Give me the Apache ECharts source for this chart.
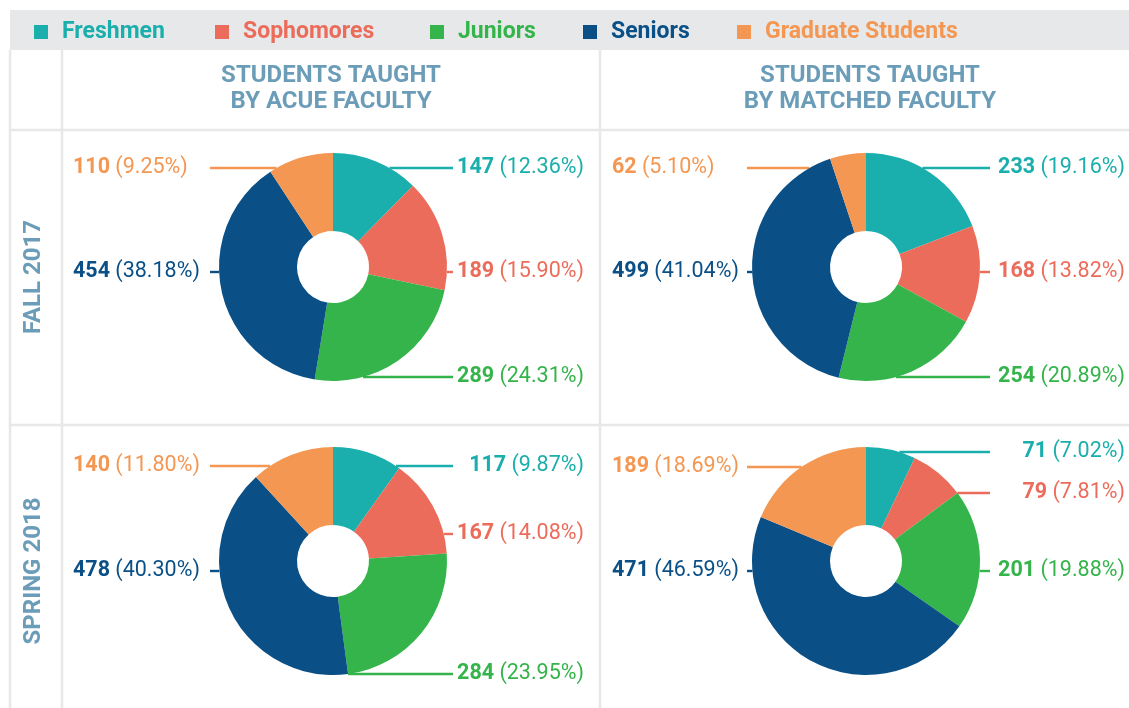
<!DOCTYPE html>
<html>
<head>
<meta charset="utf-8">
<script src="https://cdn.jsdelivr.net/npm/echarts@6/dist/echarts.min.js"></script>
<style>
html,body{margin:0;padding:0;background:#fff;}
#chart{width:1129px;height:708px;}
</style>
</head>
<body>
<div id="chart"></div>
<script>
// ---- data ----
const categories = ['Freshmen', 'Sophomores', 'Juniors', 'Seniors', 'Graduate Students'];
const fall2017Acue = [147, 189, 289, 454, 110];
const fall2017Matched = [233, 168, 254, 499, 62];
const spring2018Acue = [117, 167, 284, 478, 140];
const spring2018Matched = [71, 79, 201, 471, 189];
const columnTitles = ['STUDENTS TAUGHT\nBY ACUE FACULTY', 'STUDENTS TAUGHT\nBY MATCHED FACULTY'];
const rowTitles = ['FALL 2017', 'SPRING 2018'];

// ---- styles / layout ----
const colors = ['#1aafac', '#ec6c5b', '#34b44a', '#0a5087', '#f39752'];
const headColor = '#6c9db8';
const gridColor = '#e7e8ea';
const FONT = 'Roboto';
const pieData = [fall2017Acue, fall2017Matched, spring2018Acue, spring2018Matched];
const pieCenters = [[333, 267], [866, 267], [333, 561], [866, 561]];
const R_OUT = 114, R_IN = 36;
const labelDy = [[-99, 5, 110, 5, -99], [-99, 5, 110, 5, -99], [-95, -27, 113, 10, -95], [-109, -68, 10, 10, -94]];
const labelSide = ['right', 'right', 'right', 'left', 'left'];
const textLeftX = [73, 612, 73, 612];
const textRightX = [584, 1125, 584, 1125];
const lineLeftX = [210, 747, 210, 747];
const lineRightX = [453, 990, 453, 990];
const legendLeft = [34, 215, 430, 583, 737];

const chart = echarts.init(document.getElementById('chart'));

const series = pieData.map((vals, s) => {
  const total = vals.reduce((a, b) => a + b, 0);
  return {
    type: 'pie',
    center: pieCenters[s],
    radius: [R_IN, R_OUT],
    startAngle: 90,
    clockwise: true,
    avoidLabelOverlap: false,
    emphasis: { disabled: true },
    data: vals.map((v, i) => ({ name: categories[i], value: v, itemStyle: { color: colors[i] } })),
    label: {
      show: true,
      formatter: p => '{b|' + p.value + '} {n|(' + (p.value / total * 100).toFixed(2) + '%)}',
      rich: {
        b: { fontFamily: FONT, fontWeight: 'bold', fontSize: 21.5 },
        n: { fontFamily: FONT, fontWeight: 'normal', fontSize: 21.5, padding: [0, 0, 0, 2] }
      },
      color: 'inherit'
    },
    labelLine: { show: true, smooth: false, lineStyle: { width: 2.4 } },
    labelLayout: function (params) {
      const i = params.dataIndex;
      const [cx, cy] = pieCenters[s];
      const dy = labelDy[s][i];
      const y = cy + dy;
      const dx = Math.abs(dy) < R_OUT ? Math.sqrt(R_OUT * R_OUT - dy * dy) : 0;
      if (labelSide[i] === 'right') {
        const x0 = cx + dx;
        return {
          x: textRightX[s], y: y, align: 'right', verticalAlign: 'middle',
          labelLinePoints: [[x0, y], [x0, y], [lineRightX[s], y]]
        };
      } else {
        const x0 = cx - dx;
        return {
          x: textLeftX[s], y: y, align: 'left', verticalAlign: 'middle',
          labelLinePoints: [[x0, y], [x0, y], [lineLeftX[s], y]]
        };
      }
    }
  };
});

const legends = categories.map((c, i) => ({
  left: legendLeft[i],
  top: 20,
  padding: 0,
  icon: 'rect',
  itemWidth: 14,
  itemHeight: 14,
  selectedMode: false,
  data: [{ name: c, textStyle: { color: colors[i] } }],
  textStyle: { fontFamily: FONT, fontWeight: 'bold', fontSize: 23, padding: [0, 0, 0, 9], lineHeight: 24 }
}));

const lines = [
  [10, 50, 10, 708], [62, 50, 62, 708], [600, 50, 600, 708],
  [10, 130, 1129, 130], [10, 425, 1129, 425]
];

const graphic = [
  { type: 'rect', z: -10, shape: { x: 10, y: 10, width: 1119, height: 40 }, style: { fill: gridColor } }
].concat(lines.map(l => ({
  type: 'line', z: -10, shape: { x1: l[0], y1: l[1], x2: l[2], y2: l[3] },
  style: { stroke: gridColor, lineWidth: 2.5 }
}))).concat(columnTitles.map((t, k) => ({
  type: 'text', x: [331, 870][k], y: 89,
  style: { text: t, align: 'center', verticalAlign: 'middle', fill: headColor,
           font: 'bold 24px ' + FONT, lineHeight: 26 }
}))).concat(rowTitles.map((t, k) => ({
  type: 'text', x: 34, y: [277, 571][k], rotation: Math.PI / 2,
  style: { text: t, align: 'center', verticalAlign: 'middle', fill: headColor,
           font: 'bold 24px ' + FONT }
})));

chart.setOption({
  animation: false,
  backgroundColor: '#ffffff',
  legend: legends,
  graphic: graphic,
  series: series
});
</script>
</body>
</html>
